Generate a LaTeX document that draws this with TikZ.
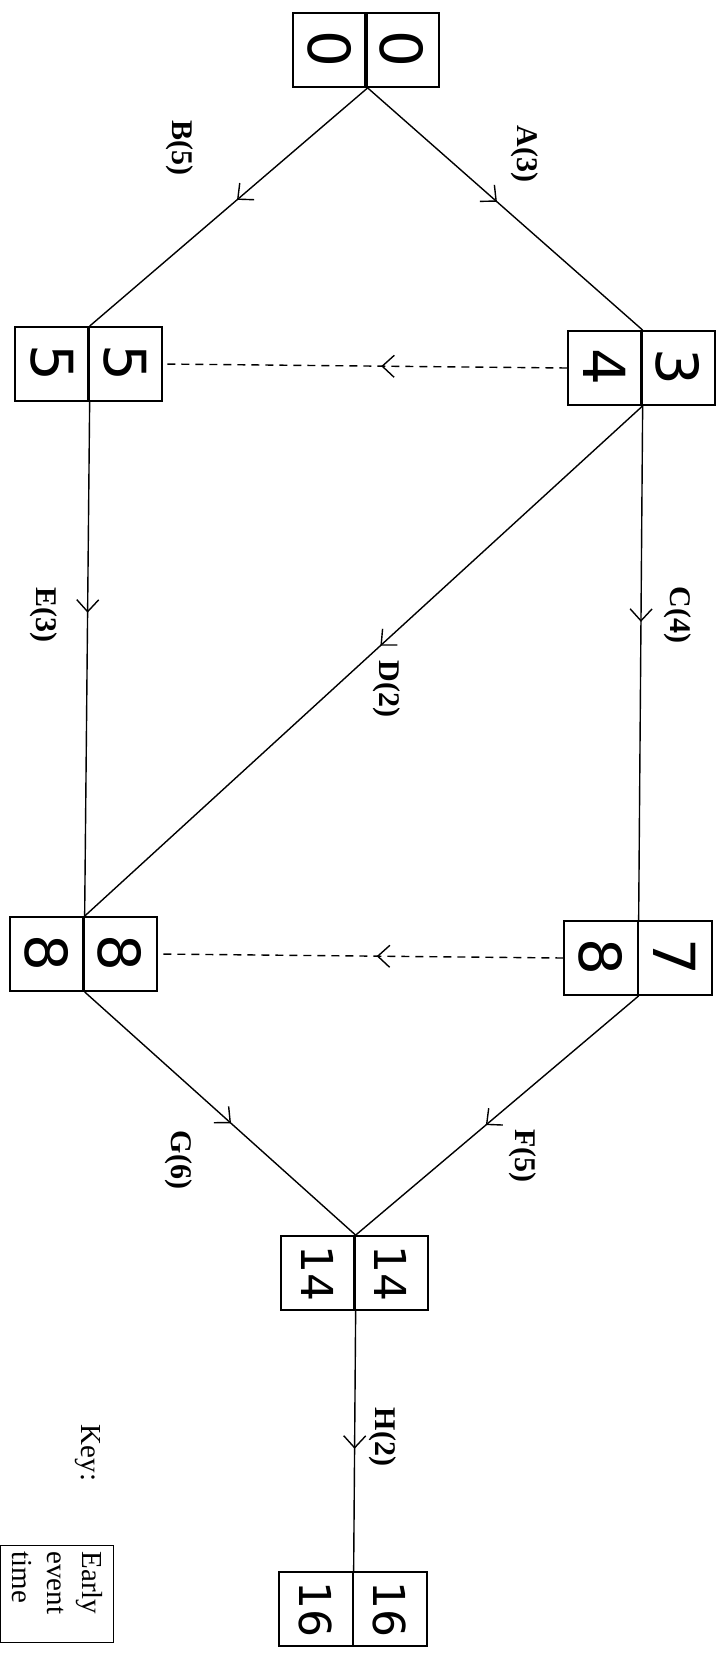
\documentclass[tikz,border=0pt]{standalone}
\usepackage{fontspec}
\setmainfont{Liberation Serif}
\newfontfamily\hand{DejaVu Sans}
\usetikzlibrary{arrows.meta,decorations.markings}
\tikzset{
  cell/.style={draw, line width=1.8pt, minimum width=73.5pt, minimum height=74pt, inner sep=0pt,
    font=\hand\fontsize{58}{64}\selectfont},
  cellsm/.style={cell, font=\hand\fontsize{44}{50}\selectfont},
  lbl/.style={font=\bfseries\fontsize{30}{34}\selectfont, rotate=-90},
  act/.style={line width=1.4pt, postaction={decorate},
    decoration={markings, mark=at position #1 with {\arrow{Straight Barb[length=12pt,width=22pt,line width=1.4pt]}}}},
  dummy/.style={act=#1, dash pattern=on 8pt off 6pt},
  keytxt/.style={font=\fontsize{29}{35}\selectfont, rotate=-90}
}
\newcommand{\dg}[1]{\rotatebox[origin=c]{-90}{#1}}
\begin{document}
\begin{tikzpicture}[x=1pt,y=-1pt]
\useasboundingbox (0,0) rectangle (728,1663);
% event boxes
\node[cell] (a0) at (330,50) {\dg{0}};
\node[cell] (b0) at (402,50) {\dg{0}};
\node[cell] (a1) at (605,368) {\dg{4}};
\node[cell] (b1) at (678,368) {\dg{3}};
\node[cell] (a2) at (52,364) {\dg{5}};
\node[cell] (b2) at (125,364) {\dg{5}};
\node[cell] (a3) at (601,958) {\dg{8}};
\node[cell] (b3) at (675,958) {\dg{7}};
\node[cell] (a4) at (47,954) {\dg{8}};
\node[cell] (b4) at (120,954) {\dg{8}};
\node[cellsm] (a5) at (318,1273) {\dg{14}};
\node[cellsm] (b5) at (391,1273) {\dg{14}};
\node[cellsm] (a6) at (316,1609) {\dg{16}};
\node[cellsm] (b6) at (390,1609) {\dg{16}};
% activities
\draw[act=0.47] (a0.south east) -- (a1.north east);
\draw[act=0.47] (a0.south east) -- (a2.north east);
\draw[act=0.42] (a1.south east) -- (a3.north east);
\draw[act=0.47] (a1.south east) -- (a4.north east);
\draw[act=0.41] (a2.south east) -- (a4.north east);
\draw[act=0.54] (a3.south east) -- (a5.north east);
\draw[act=0.54] (a4.south east) -- (a5.north east);
\draw[act=0.53] (a5.south east) -- (a6.north east);
% dummies
\draw[dummy=0.46] (a1.west) -- (b2.east);
\draw[dummy=0.46] (a3.west) -- (b4.east);
% labels
\node[lbl] (lA) at (525,154) {A(3)};
\node[lbl] (lB) at (180,148) {B(5)};
\node[lbl] (lC) at (678,615) {C(4)};
\node[lbl] (lD) at (387,689) {D(2)};
\node[lbl] (lE) at (44,615) {E(3)};
\node[lbl] (lF) at (523,1156) {F(5)};
\node[lbl] (lG) at (179,1160) {G(6)};
\node[lbl] (lH) at (383,1437) {H(2)};
% key
\node[keytxt] (key) at (88,1453) {Key:};
\node[keytxt, draw, line width=1.2pt, align=left, text width=85pt, minimum height=113pt, inner sep=6pt] (kbox) at (57,1594) {Early\\event\\time};
\end{tikzpicture}
\end{document}
